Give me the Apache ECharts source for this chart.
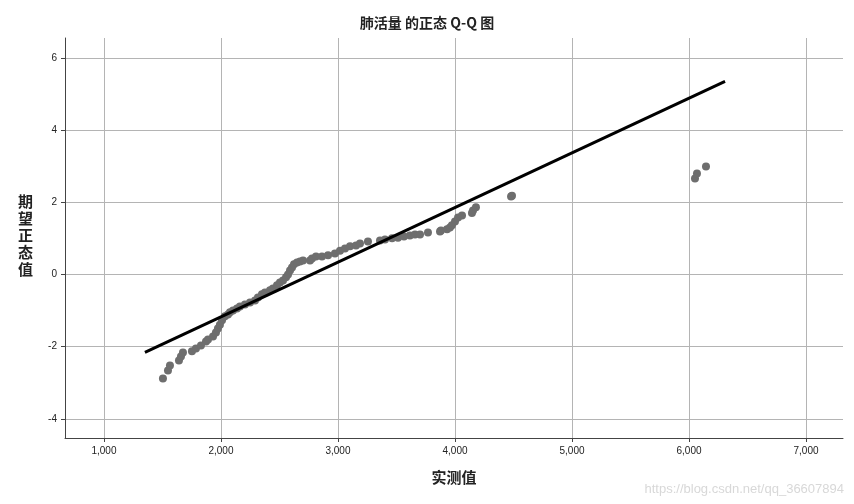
<!DOCTYPE html>
<html>
<head>
<meta charset="utf-8">
<script src="https://cdn.jsdelivr.net/npm/echarts@6/dist/echarts.min.js"></script>
<style>html,body{margin:0;padding:0;background:#fff}#main{width:854px;height:504px}</style>
</head>
<body>
<div id="main"></div>
<script>
var observedX = [1504,1547,1564,1641,1658,1675,1752,1786,1829,1872,1889,1932,1957,1974,1991,2009,2034,2060,2077,2103,2137,2162,2205,2248,2291,2316,2350,2376,2419,2444,2479,2504,2530,2556,2573,2590,2607,2624,2650,2675,2701,2761,2778,2812,2863,2915,2974,3017,3060,3103,3154,3188,3256,3359,3402,3462,3513,3564,3615,3658,3701,3769,3872,3880,3932,3957,3974,4000,4026,4060,4145,4154,4179,4479,4487,6051,6068,6145]
var expectedY = [-2.88,-2.66,-2.52,-2.38,-2.27,-2.16,-2.13,-2.05,-1.97,-1.86,-1.80,-1.72,-1.61,-1.50,-1.39,-1.27,-1.16,-1.11,-1.05,-1.00,-0.94,-0.89,-0.83,-0.78,-0.72,-0.64,-0.55,-0.50,-0.44,-0.39,-0.30,-0.22,-0.17,-0.08,0.00,0.11,0.19,0.28,0.33,0.36,0.39,0.39,0.44,0.50,0.50,0.53,0.58,0.66,0.72,0.78,0.80,0.86,0.91,0.94,0.97,1.00,1.02,1.05,1.08,1.11,1.11,1.16,1.19,1.22,1.25,1.30,1.36,1.47,1.58,1.63,1.70,1.77,1.86,2.16,2.18,2.66,2.80,2.99]
var refLine = [[1350, -2.16], [6308, 5.35]]
var xTicks = [1000, 2000, 3000, 4000, 5000, 6000, 7000]
var yTicks = [-4, -2, 0, 2, 4, 6]

var chart = echarts.init(document.getElementById('main'))
var pts = observedX.map(function (x, i) { return [x, expectedY[i]] })
var font = 'Liberation Sans, Arial, sans-serif'
var option = {
    animation: false,
    title: {
        text: '肺活量 的正态 Q-Q 图',
        left: 'center', top: 11,
        textStyle: { fontSize: 14, fontWeight: 'bold', color: '#222', fontFamily: 'Noto Sans CJK SC' }
    },
    graphic: [
        { type: 'text', left: 18, top: 193, style: { text: '期\n望\n正\n态\n值', fontSize: 15, fontWeight: 'bold', lineHeight: 17, fill: '#222', fontFamily: 'Noto Sans CJK SC' } },
        { type: 'text', right: 10, bottom: 8, style: { text: 'https://blog.csdn.net/qq_36607894', fontSize: 13, fill: '#d8d8d8', fontFamily: font } }
    ],
    grid: { left: 65, right: 11, top: 38, bottom: 66 },
    xAxis: {
        type: 'value', min: 667, max: 7316,
        name: '实测值', nameLocation: 'middle', nameGap: 32,
        nameTextStyle: { fontSize: 15, fontWeight: 'bold', color: '#222', fontFamily: 'Noto Sans CJK SC' },
        axisLine: { onZero: false, lineStyle: { color: '#444' } },
        axisTick: { customValues: xTicks, length: 4, lineStyle: { color: '#444' } },
        axisLabel: { customValues: xTicks, fontSize: 10, color: '#222', fontFamily: font,
            formatter: function (v) { return v.toLocaleString('en-US') } },
        splitLine: { show: true, lineStyle: { color: '#b4b4b4' } }
    },
    yAxis: {
        type: 'value', min: -4.53, max: 6.55,
        axisLine: { show: true, onZero: false, lineStyle: { color: '#444' } },
        axisTick: { show: true, customValues: yTicks, length: 4, lineStyle: { color: '#444' } },
        axisLabel: { customValues: yTicks, fontSize: 10, color: '#222', fontFamily: font },
        splitLine: { show: true, lineStyle: { color: '#b4b4b4' } }
    },
    series: [
        {
            type: 'scatter', data: pts, symbolSize: 8,
            itemStyle: { color: '#6e6e6e', opacity: 1 }
        },
        {
            type: 'line', data: refLine, symbol: 'none',
            lineStyle: { color: '#000', width: 3 }
        }
    ]
}
chart.setOption(option)
</script>
</body>
</html>
